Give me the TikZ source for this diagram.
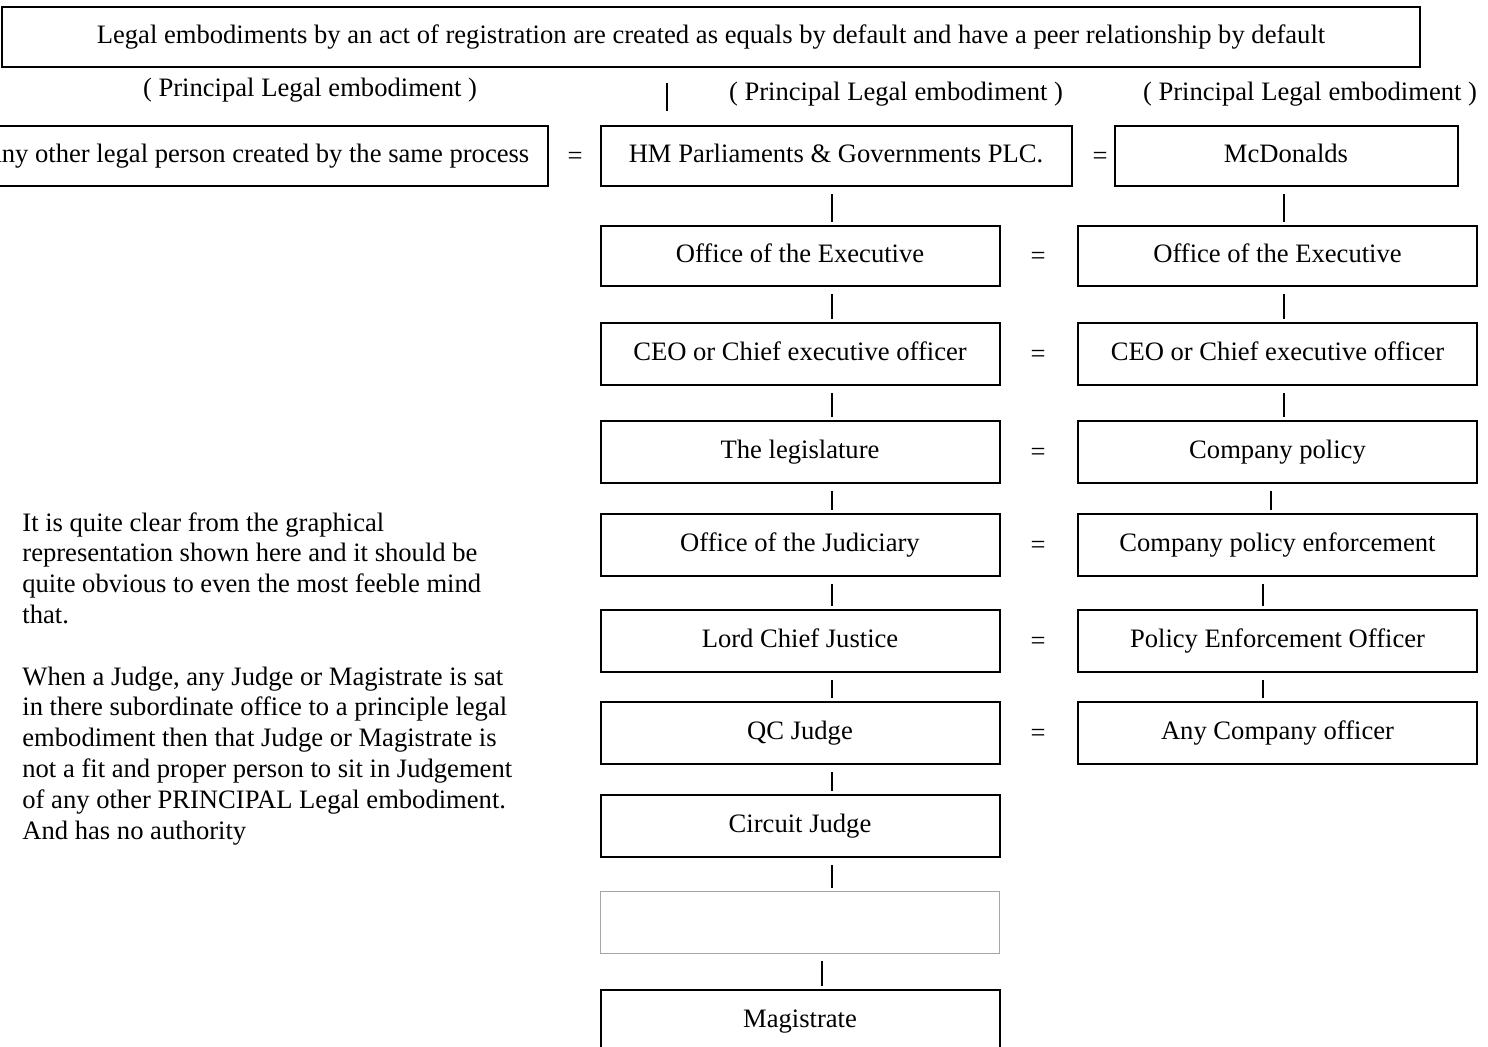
\documentclass[tikz,border=0pt]{standalone}
\usepackage{fontspec}
\setmainfont{Liberation Serif}
\usepackage{tikz}
\usetikzlibrary{calc,positioning}

\begin{document}
\begin{tikzpicture}[x=0.5pt,y=-0.5pt,
    font=\fontsize{13.3pt}{15.4pt}\selectfont,
    post/.style={draw, line width=1pt, minimum width=199.5pt, minimum height=31pt, inner sep=0pt,
      text height=9.6pt, text depth=2.8pt},
    link/.style={line width=1pt, shorten <=3.5pt, shorten >=1.5pt}]
  \useasboundingbox (0,0) rectangle (1488,1046);
  \clip (0,0) rectangle (1488,1046);

  \node[post, minimum width=709pt, minimum height=30pt] (top) at (711,37)
    {Legal embodiments by an act of registration are created as equals by default and have a peer relationship by default};
  \node (plleft) at (310,90) {( Principal Legal embodiment )};
  \node (plmid) at (896,94) {( Principal Legal embodiment )};
  \node (plright) at (1310,94) {( Principal Legal embodiment )};
  \coordinate (bartop) at (667,83);
  \coordinate (barbot) at (667,111);
  \draw[line width=1pt] (bartop) -- (barbot);

  \node[post, anchor=east, minimum width=292pt, minimum height=30pt] (other) at (549,156)
    {Any other legal person created by the same process};
  \node[post, minimum width=235.5pt, minimum height=30pt] (hm) at (836,156) {HM Parliaments \& Governments PLC.};
  \node[post, minimum width=171.5pt, minimum height=30pt] (mcd) at (1286,156) {McDonalds};
  \node (eqa) at (575,158) {=};
  \node (eqb) at (1100,158) {=};

  \node[post, minimum height=30pt] (mexec) at (800,256) {Office of the Executive};
  \node[post] (mceo) at (800,354) {CEO or Chief executive officer};
  \node[post] (legis) at (800,452) {The legislature};
  \node[post] (judic) at (800,545) {Office of the Judiciary};
  \node[post] (lcj) at (800,641) {Lord Chief Justice};
  \node[post] (qc) at (800,733) {QC Judge};
  \node[post] (circuit) at (800,826) {Circuit Judge};
  \node[post, draw=black!35, line width=0.5pt] (blank) at (800,922) {};
  \node[post] (magis) at (800,1021) {Magistrate};

  \node[post, minimum height=30pt] (rexec) at (1277.5,256) {Office of the Executive};
  \node[post] (rceo) at (1277.5,354) {CEO or Chief executive officer};
  \node[post] (policy) at (1277.5,452) {Company policy};
  \node[post] (enforce) at (1277.5,545) {Company policy enforcement};
  \node[post] (officer) at (1277.5,641) {Policy Enforcement Officer};
  \node[post] (anyoff) at (1277.5,733) {Any Company officer};

  \foreach \y [count=\i] in {258,356,454,547,643,735} {
    \node (eq\i) at (1038,\y) {=};
  }

  \foreach \a/\b/\x in {hm/mexec/832, mexec/mceo/832, mceo/legis/832, legis/judic/832,
      judic/lcj/832, lcj/qc/832, qc/circuit/832, circuit/blank/832, blank/magis/822,
      mcd/rexec/1284, rexec/rceo/1284, rceo/policy/1284, policy/enforce/1271,
      enforce/officer/1263, officer/anyoff/1263} {
    \coordinate (cx) at (\x,0);
    \draw[link] (\a.south -| cx) -- (\b.north -| cx);
  }

  \node[anchor=north west, align=left, inner sep=0pt] (note) at (22,512)
    {It is quite clear from the graphical\\
     representation shown here and it should be\\
     quite obvious to even the most feeble mind\\
     that.\\[15.4pt]
     When a Judge, any Judge or Magistrate is sat\\
     in there subordinate office to a principle legal\\
     embodiment then that Judge or Magistrate is\\
     not a fit and proper person to sit in Judgement\\
     of any other PRINCIPAL Legal embodiment.\\
     And has no authority};
\end{tikzpicture}
\end{document}
